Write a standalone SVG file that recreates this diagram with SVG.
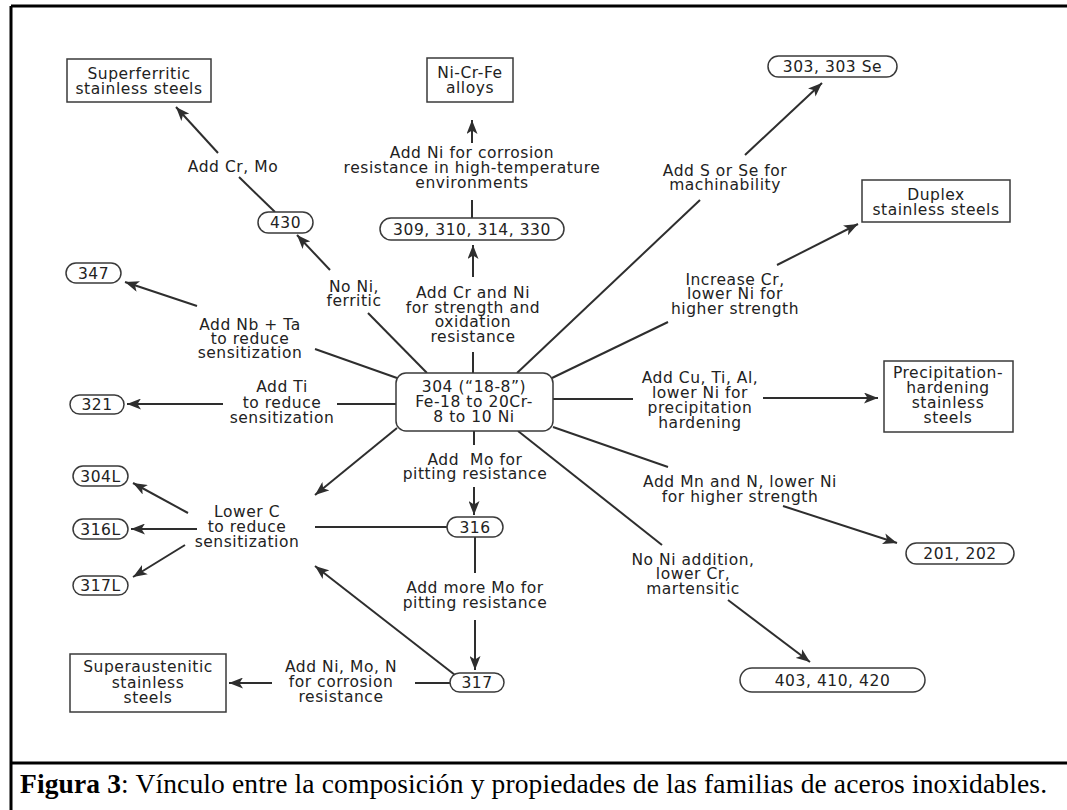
<svg xmlns="http://www.w3.org/2000/svg" width="1067" height="810" viewBox="0 0 1067 810">
<style>
.t{font-family:"DejaVu Sans","Liberation Sans",sans-serif;font-size:15.5px;fill:#222;text-anchor:middle;letter-spacing:0.55px}
.b{fill:#fff;stroke:#3a3a3a;stroke-width:1.5}
.c line{stroke:#2e2e2e;stroke-width:2}
.a{marker-end:url(#ah)}
.frame{stroke:#000;stroke-width:3}
.cap{font-family:"Liberation Serif","Times New Roman",serif;font-size:27.5px;fill:#000}
</style>
<defs>
<marker id="ah" markerUnits="userSpaceOnUse" markerWidth="15" markerHeight="11" refX="14" refY="5.5" orient="auto" viewBox="0 0 15 11">
<path d="M0,0 L14,5.5 L0,11 L3.5,5.5 Z" fill="#2e2e2e"/>
</marker>
</defs>
<rect width="1067" height="810" fill="#fff"/>
<g id="frame">
<line class="frame" x1="11" y1="6" x2="1067" y2="6"/>
<line class="frame" x1="11" y1="6" x2="11" y2="810"/>
<line class="frame" x1="11" y1="763" x2="1067" y2="763"/>
</g>
<g id="connectors" class="c">
<line x1="275" y1="212" x2="239" y2="177"/>
<line class="a" x1="218" y1="153" x2="176" y2="107"/>
<line class="a" x1="330" y1="270" x2="297" y2="235"/>
<line x1="427" y1="373" x2="368" y2="313"/>
<line x1="472" y1="218" x2="472" y2="200"/>
<line class="a" x1="472" y1="143" x2="472" y2="120"/>
<line x1="473" y1="373" x2="473" y2="352"/>
<line class="a" x1="473" y1="277" x2="473" y2="245"/>
<line x1="517" y1="373" x2="700" y2="200"/>
<line class="a" x1="745" y1="155" x2="822" y2="83"/>
<line x1="552" y1="378" x2="668" y2="322"/>
<line class="a" x1="777" y1="265" x2="858" y2="224"/>
<line x1="553" y1="399" x2="633" y2="399"/>
<line class="a" x1="763" y1="398" x2="878" y2="398"/>
<line x1="553" y1="427" x2="668" y2="467"/>
<line class="a" x1="783" y1="506" x2="897" y2="543"/>
<line x1="518" y1="431" x2="662" y2="545"/>
<line class="a" x1="728" y1="600" x2="810" y2="662"/>
<line x1="474" y1="431" x2="474" y2="445"/>
<line class="a" x1="474" y1="487" x2="474" y2="515"/>
<line x1="475" y1="537" x2="475" y2="573"/>
<line class="a" x1="475" y1="620" x2="475" y2="670"/>
<line x1="450" y1="683" x2="415" y2="683"/>
<line class="a" x1="272" y1="683" x2="229" y2="683"/>
<line class="a" x1="455" y1="675" x2="315" y2="566"/>
<line x1="447" y1="527" x2="315" y2="527"/>
<line class="a" x1="397" y1="428" x2="315" y2="495"/>
<line class="a" x1="188" y1="513" x2="133" y2="483"/>
<line class="a" x1="197" y1="529" x2="131" y2="529"/>
<line class="a" x1="185" y1="545" x2="133" y2="577"/>
<line x1="396" y1="404" x2="337" y2="404"/>
<line class="a" x1="223" y1="404" x2="127" y2="404"/>
<line x1="397" y1="378" x2="315" y2="349"/>
<line class="a" x1="197" y1="306" x2="125" y2="282"/>
</g>
<g id="labels">
<text class="t" x="233" y="172">Add Cr, Mo</text>
<text class="t" x="472" y="158">Add Ni for corrosion</text>
<text class="t" x="472" y="173">resistance in high-temperature</text>
<text class="t" x="472" y="188">environments</text>
<text class="t" x="725" y="176">Add S or Se for</text>
<text class="t" x="725" y="190">machinability</text>
<text class="t" x="735" y="285">Increase Cr,</text>
<text class="t" x="735" y="299">lower Ni for</text>
<text class="t" x="735" y="314">higher strength</text>
<text class="t" x="354" y="292">No Ni,</text>
<text class="t" x="354" y="306">ferritic</text>
<text class="t" x="473" y="298">Add Cr and Ni</text>
<text class="t" x="473" y="313">for strength and</text>
<text class="t" x="473" y="327">oxidation</text>
<text class="t" x="473" y="342">resistance</text>
<text class="t" x="250" y="330">Add Nb + Ta</text>
<text class="t" x="250" y="344">to reduce</text>
<text class="t" x="250" y="358">sensitization</text>
<text class="t" x="282" y="392">Add Ti</text>
<text class="t" x="282" y="408">to reduce</text>
<text class="t" x="282" y="423">sensitization</text>
<text class="t" x="700" y="383">Add Cu, Ti, Al,</text>
<text class="t" x="700" y="398">lower Ni for</text>
<text class="t" x="700" y="413">precipitation</text>
<text class="t" x="700" y="428">hardening</text>
<text class="t" x="740" y="487">Add Mn and N, lower Ni</text>
<text class="t" x="740" y="502">for higher strength</text>
<text class="t" x="693" y="565">No Ni addition,</text>
<text class="t" x="693" y="579">lower Cr,</text>
<text class="t" x="693" y="594">martensitic</text>
<text class="t" x="247" y="517">Lower C</text>
<text class="t" x="247" y="532">to reduce</text>
<text class="t" x="247" y="547">sensitization</text>
<text class="t" x="475" y="465">Add&#160; Mo for</text>
<text class="t" x="475" y="479">pitting resistance</text>
<text class="t" x="475" y="593">Add more Mo for</text>
<text class="t" x="475" y="608">pitting resistance</text>
<text class="t" x="341" y="672">Add Ni, Mo, N</text>
<text class="t" x="341" y="687">for corrosion</text>
<text class="t" x="341" y="702">resistance</text>
</g>
<g id="n304"><rect class="b" x="396" y="373" width="157" height="58" rx="10"/>
<text class="t" x="474" y="392">304 (“18-8”)</text>
<text class="t" x="474" y="407">Fe-18 to 20Cr-</text>
<text class="t" x="474" y="422">8 to 10 Ni</text></g>
<g id="superferritic"><rect class="b" x="67" y="59" width="144" height="43"/>
<text class="t" x="139" y="79">Superferritic</text>
<text class="t" x="139" y="94">stainless steels</text></g>
<g id="nicrfe"><rect class="b" x="427" y="58" width="86" height="44"/>
<text class="t" x="470" y="78">Ni-Cr-Fe</text>
<text class="t" x="470" y="93">alloys</text></g>
<g id="duplex"><rect class="b" x="862" y="180" width="148" height="42"/>
<text class="t" x="936" y="200">Duplex</text>
<text class="t" x="936" y="215">stainless steels</text></g>
<g id="precip"><rect class="b" x="884" y="361" width="129" height="71"/>
<text class="t" x="948" y="378">Precipitation-</text>
<text class="t" x="948" y="393">hardening</text>
<text class="t" x="948" y="408">stainless</text>
<text class="t" x="948" y="423">steels</text></g>
<g id="superaust"><rect class="b" x="70" y="654" width="156" height="58"/>
<text class="t" x="148" y="672">Superaustenitic</text>
<text class="t" x="148" y="688">stainless</text>
<text class="t" x="148" y="703">steels</text></g>
<g id="n430"><rect class="b" x="258" y="212" width="55" height="21" rx="10.5"/><text class="t" x="285.5" y="228">430</text></g>
<g id="n347"><rect class="b" x="66" y="263" width="55" height="20" rx="10"/><text class="t" x="93.5" y="279">347</text></g>
<g id="n321"><rect class="b" x="70" y="395" width="54" height="19" rx="9.5"/><text class="t" x="97" y="410">321</text></g>
<g id="n304L"><rect class="b" x="73" y="466" width="55" height="20" rx="10"/><text class="t" x="100.5" y="482">304L</text></g>
<g id="n316L"><rect class="b" x="73" y="519" width="55" height="20" rx="10"/><text class="t" x="100.5" y="535">316L</text></g>
<g id="n317L"><rect class="b" x="73" y="576" width="55" height="19" rx="9.5"/><text class="t" x="100.5" y="591">317L</text></g>
<g id="n316"><rect class="b" x="447" y="517" width="56" height="20" rx="10"/><text class="t" x="475" y="533">316</text></g>
<g id="n317"><rect class="b" x="450" y="673" width="54" height="19" rx="9.5"/><text class="t" x="477" y="688">317</text></g>
<g id="n309"><rect class="b" x="380" y="218" width="184" height="22" rx="11"/><text class="t" x="472" y="235">309, 310, 314, 330</text></g>
<g id="n303"><rect class="b" x="768" y="56" width="129" height="21" rx="10.5"/><text class="t" x="832.5" y="72">303, 303 Se</text></g>
<g id="n201"><rect class="b" x="906" y="543" width="108" height="21" rx="10.5"/><text class="t" x="960" y="559">201, 202</text></g>
<g id="n403"><rect class="b" x="740" y="668" width="185" height="24" rx="12"/><text class="t" x="832.5" y="686">403, 410, 420</text></g>
<g id="caption"><text class="cap" x="20" y="793" textLength="1027" lengthAdjust="spacing"><tspan font-weight="bold">Figura 3</tspan>: Vínculo entre la composición y propiedades de las familias de aceros inoxidables.</text></g>
</svg>
